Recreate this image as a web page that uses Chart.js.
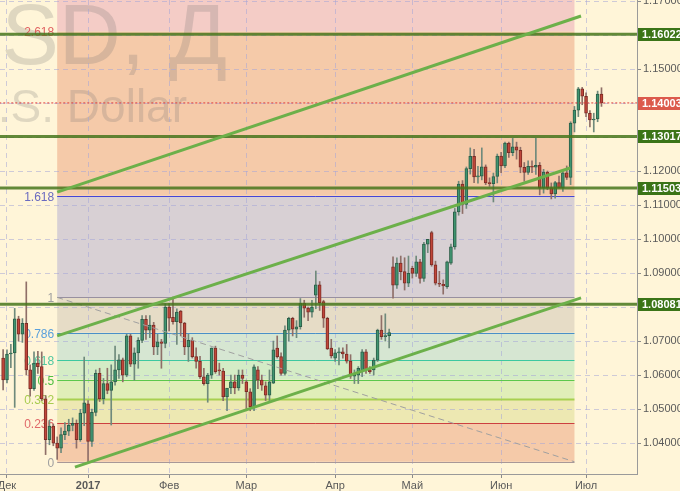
<!DOCTYPE html>
<html>
<head>
<meta charset="utf-8">
<script src="https://cdn.jsdelivr.net/npm/chart.js@4.4.0/dist/chart.umd.min.js"></script>
<style>
  html, body { margin: 0; padding: 0; background: #fff5d8; }
  #wrap { width: 680px; height: 491px; }
</style>
</head>
<body>
<div id="wrap"><canvas id="chart"></canvas></div>
<script>
// EURUSD daily, 30 Nov 2016 - 7 Jul 2017 (one entry per bar)
var opens = [1.0650,1.0586,1.0662,1.0665,1.0765,1.0720,1.0752,1.0615,1.0560,1.0635,
  1.0625,1.0530,1.0410,1.0450,1.0400,1.0385,1.0425,1.0435,1.0452,1.0458,
  1.0410,1.0488,1.0515,1.0405,1.0490,1.0605,1.0530,1.0575,1.0555,1.0580,
  1.0615,1.0645,1.0600,1.0715,1.0632,1.0665,1.0702,1.0764,1.0732,1.0747,
  1.0683,1.0698,1.0693,1.0800,1.0770,1.0757,1.0788,1.0753,1.0683,1.0702,
  1.0654,1.0640,1.0595,1.0575,1.0600,1.0679,1.0615,1.0612,1.0536,1.0562,
  1.0580,1.0562,1.0600,1.0580,1.0551,1.0507,1.0615,1.0585,1.0568,1.0541,
  1.0576,1.0679,1.0654,1.0605,1.0732,1.0767,1.0735,1.0742,1.0811,1.0797,
  1.0785,1.0835,1.0865,1.0816,1.0767,1.0679,1.0650,1.0665,1.0668,1.0662,
  1.0641,1.0597,1.0600,1.0610,1.0668,1.0615,1.0615,1.0644,1.0732,1.0713,
  1.0716,1.0918,1.0864,1.0929,1.0904,1.0870,1.0914,1.0899,1.0933,1.0884,
  1.0985,1.1019,1.0924,1.0870,1.0867,1.0860,1.0929,1.0977,1.1080,1.1162,
  1.1102,1.1207,1.1243,1.1183,1.1185,1.1212,1.1165,1.1163,1.1184,1.1244,
  1.1215,1.1282,1.1254,1.1271,1.1261,1.1211,1.1196,1.1214,1.1211,1.1217,
  1.1150,1.1197,1.1151,1.1133,1.1166,1.1150,1.1195,1.1181,1.1341,1.1379,
  1.1442,1.1420,1.1370,1.1350,1.1353,1.1426];
var highs = [1.0675,1.0674,1.0690,1.0796,1.0773,1.0766,1.0874,1.0630,1.0668,1.0670,
  1.0668,1.0540,1.0467,1.0456,1.0418,1.0445,1.0460,1.0470,1.0474,1.0468,
  1.0499,1.0653,1.0525,1.0500,1.0615,1.0620,1.0590,1.0620,1.0630,1.0685,
  1.0660,1.0650,1.0720,1.0720,1.0680,1.0710,1.0775,1.0775,1.0775,1.0755,
  1.0720,1.0705,1.0810,1.0810,1.0829,1.0795,1.0790,1.0755,1.0720,1.0710,
  1.0680,1.0655,1.0620,1.0605,1.0680,1.0685,1.0635,1.0620,1.0560,1.0600,
  1.0600,1.0615,1.0615,1.0585,1.0560,1.0630,1.0625,1.0600,1.0580,1.0615,
  1.0700,1.0715,1.0665,1.0745,1.0770,1.0770,1.0760,1.0825,1.0820,1.0800,
  1.0820,1.0906,1.0875,1.0820,1.0770,1.0705,1.0675,1.0680,1.0680,1.0690,
  1.0660,1.0615,1.0625,1.0675,1.0675,1.0625,1.0650,1.0735,1.0775,1.0780,
  1.0735,1.0948,1.0945,1.0950,1.0945,1.0950,1.0920,1.0950,1.0940,1.0990,
  1.0999,1.1023,1.0935,1.0905,1.0880,1.0935,1.0985,1.1090,1.1170,1.1172,
  1.1212,1.1268,1.1264,1.1214,1.1268,1.1218,1.1180,1.1194,1.1250,1.1255,
  1.1285,1.1285,1.1296,1.1285,1.1270,1.1225,1.1230,1.1230,1.1296,1.1225,
  1.1205,1.1200,1.1165,1.1170,1.1185,1.1205,1.1215,1.1345,1.1390,1.1446,
  1.1446,1.1430,1.1378,1.1370,1.1435,1.1445];
var lows = [1.0556,1.0577,1.0622,1.0505,1.0700,1.0696,1.0600,1.0538,1.0555,1.0605,
  1.0525,1.0366,1.0395,1.0392,1.0352,1.0372,1.0410,1.0422,1.0436,1.0385,
  1.0405,1.0451,1.0340,1.0390,1.0480,1.0522,1.0515,1.0545,1.0453,1.0570,
  1.0590,1.0580,1.0595,1.0625,1.0585,1.0620,1.0695,1.0705,1.0710,1.0660,
  1.0660,1.0620,1.0680,1.0730,1.0750,1.0690,1.0715,1.0660,1.0640,1.0650,
  1.0620,1.0590,1.0570,1.0520,1.0590,1.0605,1.0600,1.0525,1.0495,1.0545,
  1.0545,1.0555,1.0575,1.0495,1.0495,1.0495,1.0560,1.0555,1.0525,1.0525,
  1.0575,1.0650,1.0600,1.0600,1.0700,1.0715,1.0710,1.0735,1.0770,1.0760,
  1.0770,1.0795,1.0790,1.0740,1.0675,1.0650,1.0640,1.0630,1.0650,1.0635,
  1.0590,1.0575,1.0575,1.0595,1.0605,1.0605,1.0600,1.0640,1.0705,1.0700,
  1.0680,1.0826,1.0855,1.0880,1.0850,1.0860,1.0885,1.0890,1.0870,1.0875,
  1.0960,1.0920,1.0865,1.0860,1.0838,1.0855,1.0925,1.0970,1.1070,1.1075,
  1.1090,1.1191,1.1166,1.1164,1.1174,1.1160,1.1155,1.1109,1.1165,1.1195,
  1.1210,1.1240,1.1245,1.1235,1.1195,1.1170,1.1190,1.1195,1.1190,1.1130,
  1.1135,1.1145,1.1118,1.1120,1.1150,1.1140,1.1175,1.1160,1.1315,1.1360,
  1.1395,1.1360,1.1330,1.1315,1.1345,1.1390];
var closes = [1.0586,1.0662,1.0664,1.0765,1.0720,1.0752,1.0615,1.0560,1.0635,1.0625,
  1.0530,1.0410,1.0450,1.0400,1.0385,1.0425,1.0435,1.0452,1.0458,1.0410,
  1.0488,1.0518,1.0405,1.0490,1.0605,1.0530,1.0575,1.0555,1.0580,1.0615,
  1.0645,1.0600,1.0715,1.0632,1.0665,1.0702,1.0764,1.0732,1.0747,1.0683,
  1.0698,1.0693,1.0800,1.0767,1.0757,1.0785,1.0753,1.0683,1.0702,1.0654,
  1.0640,1.0595,1.0575,1.0600,1.0679,1.0610,1.0612,1.0536,1.0562,1.0580,
  1.0562,1.0600,1.0590,1.0551,1.0507,1.0624,1.0585,1.0570,1.0541,1.0580,
  1.0674,1.0654,1.0605,1.0732,1.0767,1.0735,1.0742,1.0811,1.0797,1.0785,
  1.0800,1.0865,1.0813,1.0767,1.0677,1.0656,1.0665,1.0668,1.0662,1.0641,
  1.0597,1.0603,1.0620,1.0668,1.0615,1.0610,1.0644,1.0732,1.0713,1.0716,
  1.0725,1.0864,1.0929,1.0904,1.0870,1.0899,1.0899,1.0933,1.0884,1.0985,
  1.0999,1.0924,1.0870,1.0867,1.0862,1.0933,1.0977,1.1080,1.1162,1.1102,
  1.1207,1.1243,1.1183,1.1185,1.1212,1.1165,1.1163,1.1184,1.1244,1.1215,
  1.1282,1.1254,1.1271,1.1261,1.1211,1.1196,1.1214,1.1211,1.1217,1.1150,
  1.1197,1.1151,1.1133,1.1166,1.1150,1.1195,1.1181,1.1341,1.1379,1.1442,
  1.1420,1.1370,1.1350,1.1353,1.1426,1.1400];

// axis ticks: bar index of the first bar of each month
var tickBars = [1, 22, 43, 63, 86, 106, 129, 151];
var tickLabels = ['Дек', '2017', 'Фев', 'Мар', 'Апр', 'Май', 'Июн', 'Июл'];
var priceTicks = [1.04, 1.05, 1.06, 1.07, 1.08, 1.09, 1.10, 1.11, 1.12, 1.13, 1.14, 1.15, 1.16, 1.17];

// horizontal levels and last price
var levelPrices = [1.16022, 1.13017, 1.11503, 1.08081];
var lastPrice = 1.14003;

// fibonacci grid
var fibRatios = [0, 0.236, 0.382, 0.5, 0.618, 0.786, 1, 1.618, 2.618, 4.236];
var fibLow = 1.0345, fibHigh = 1.08285;
var fibFromBar = 14, fibToBar = 148;

// channel lines, [bar, price] anchors
var channelUpper = [[14, 1.1138], [149.7, 1.1656]];
var channelMiddle = [[14, 1.0715], [146.9, 1.1209]];
var channelLower = [[18.6, 1.0329], [149.7, 1.0827]];

var bg = '#fff5d8';
var fibFills = ['#f5caa9', '#ede8b2', '#e0eeb8', '#d4ecc6', '#d6e6d2', '#e6dcc6', '#d8d0d4', '#f5caa9', '#f4ccc6'];
var fibLineColors = ['#a89898', '#cc4040', '#a8d050', '#5cc84c', '#3cc8a0', '#4a90c8', '#9890a0', '#4646d6', 'rgba(0,0,0,0)', 'rgba(0,0,0,0)'];
var fibTextColors = ['#a0a0a0', '#e06a6a', '#a8cc50', '#50c040', '#50c8a0', '#5aa0dc', '#a0a0a0', '#6a6ac0', '#e06060', '#e06060'];
var FONT = '"Liberation Sans", Arial, sans-serif';

function fibPrice(r) { return fibLow + r * (fibHigh - fibLow); }
function isBull(i) { return closes[i] >= opens[i]; }

var wicks = opens.map(function (o, i) { return { x: i, y: [lows[i], highs[i]] }; });
var bodies = opens.map(function (o, i) { return { x: i, y: [o, closes[i]] }; });
function seg(pts) { return pts.map(function (p) { return { x: p[0], y: p[1] }; }); }
function flat(v) { return [{ x: -1, y: v }, { x: 170, y: v }]; }

var drawings = {
  id: 'drawings',
  beforeDraw: function (chart) {
    var ctx = chart.ctx, a = chart.chartArea, x = chart.scales.x, y = chart.scales.y;
    ctx.save();
    ctx.fillStyle = bg;
    ctx.fillRect(0, 0, chart.width, chart.height);
    ctx.beginPath();
    ctx.rect(a.left, a.top, a.right - a.left, a.bottom - a.top);
    ctx.clip();
    var x1 = x.getPixelForValue(fibFromBar), x2 = x.getPixelForValue(fibToBar);
    for (var k = 0; k < fibRatios.length - 1; k++) {
      var yA = y.getPixelForValue(fibPrice(fibRatios[k]));
      var yB = y.getPixelForValue(fibPrice(fibRatios[k + 1]));
      ctx.fillStyle = fibFills[k];
      ctx.fillRect(x1, yB, x2 - x1, yA - yB);
    }
    // symbol watermark
    ctx.fillStyle = 'rgba(110,110,110,0.22)';
    ctx.textAlign = 'right';
    ctx.textBaseline = 'alphabetic';
    ctx.font = '86px ' + FONT;
    ctx.fillText('EURUSD, Д', 227, 64);
    ctx.font = '46px ' + FONT;
    ctx.fillText('Euro vs U.S. Dollar', 187, 122);
    ctx.restore();
  },
  beforeDatasetsDraw: function (chart) {
    var ctx = chart.ctx, a = chart.chartArea, x = chart.scales.x, y = chart.scales.y;
    var x1 = x.getPixelForValue(fibFromBar), x2 = x.getPixelForValue(fibToBar);
    ctx.save();
    ctx.beginPath();
    ctx.rect(a.left, a.top, a.right - a.left, a.bottom - a.top);
    ctx.clip();
    ctx.font = '12px ' + FONT;
    ctx.textAlign = 'right';
    ctx.textBaseline = 'middle';
    fibRatios.forEach(function (r, k) {
      var py = Math.round(y.getPixelForValue(fibPrice(r))) + 0.5;
      ctx.strokeStyle = fibLineColors[k];
      ctx.lineWidth = r === 0.382 ? 2 : 1;
      ctx.beginPath();
      ctx.moveTo(x1, py);
      ctx.lineTo(x2, py);
      ctx.stroke();
      ctx.fillStyle = fibTextColors[k];
      ctx.fillText(String(r), x1 - 3, py + 1);
    });
    ctx.restore();
  },
  afterDraw: function (chart) {
    var ctx = chart.ctx, a = chart.chartArea, y = chart.scales.y;
    ctx.save();
    ctx.font = 'bold 11px ' + FONT;
    ctx.textAlign = 'left';
    ctx.textBaseline = 'middle';
    function box(v, color) {
      var py = Math.round(y.getPixelForValue(v));
      ctx.fillStyle = color;
      ctx.fillRect(a.right + 1, py - 6, chart.width - a.right, 13);
      ctx.fillStyle = '#ffffff';
      ctx.fillText(v.toFixed(5), a.right + 5, py + 0.5);
    }
    levelPrices.forEach(function (v) { box(v, '#3b7417'); });
    box(lastPrice, '#dc5a4c');
    ctx.restore();
  }
};

var datasets = [
  { type: 'bar', data: wicks, grouped: false, barThickness: 1, order: 4,
    backgroundColor: opens.map(function (o, i) { return isBull(i) ? '#6f8a7c' : '#8f6f68'; }) },
  { type: 'bar', data: bodies, grouped: false, barThickness: 3, order: 3, minBarLength: 1,
    borderWidth: 1, borderSkipped: false,
    backgroundColor: opens.map(function (o, i) { return isBull(i) ? '#3f9470' : '#c0463a'; }),
    borderColor: opens.map(function (o, i) { return isBull(i) ? '#2c5e48' : '#7c2c25'; }) },
  { type: 'line', data: seg([[fibFromBar, fibPrice(1)], [fibToBar, fibPrice(0)]]), order: 2,
    borderColor: '#a0a0a0', borderWidth: 1, borderDash: [6, 4] },
  { type: 'line', data: flat(lastPrice), order: 2, borderColor: '#e03a3a', borderWidth: 1, borderDash: [2, 2] }
];
levelPrices.forEach(function (v) {
  datasets.push({ type: 'line', data: flat(v), order: 1, borderColor: 'rgba(70,118,28,0.85)', borderWidth: 3 });
});
[channelUpper, channelMiddle, channelLower].forEach(function (c) {
  datasets.push({ type: 'line', data: seg(c), order: 0, borderColor: '#6cb04a', borderWidth: 3 });
});
datasets.forEach(function (d) {
  if (d.type === 'line') { d.pointRadius = 0; d.fill = false; d.tension = 0; }
});

new Chart(document.getElementById('chart'), {
  data: { datasets: datasets },
  options: {
    responsive: true,
    maintainAspectRatio: false,
    animation: false,
    devicePixelRatio: 1,
    layout: { padding: 0, autoPadding: false },
    plugins: { legend: { display: false }, tooltip: { enabled: false } },
    scales: {
      x: {
        type: 'linear', min: -0.81, max: 164.2, offset: false,
        afterBuildTicks: function (s) { s.ticks = tickBars.map(function (v) { return { value: v }; }); },
        afterFit: function (s) { s.height = 17; s.paddingLeft = 0; s.paddingRight = 0; },
        ticks: {
          autoSkip: false, maxRotation: 0, padding: 1, color: '#5a5a5a',
          callback: function (v, i) { return tickLabels[i]; },
          font: function (c) { return { family: FONT, size: 11, weight: tickLabels[c.index] === '2017' ? 'bold' : 'normal' }; }
        },
        grid: { offset: false, color: 'rgba(165,165,215,0.55)', tickColor: '#8a8a8a', tickLength: 4, tickBorderDash: [] },
        border: { display: true, color: '#9a9a9a', width: 1, dash: [5, 4] }
      },
      y: {
        type: 'linear', position: 'right', min: 1.0309, max: 1.1703,
        afterBuildTicks: function (s) { s.ticks = priceTicks.map(function (v) { return { value: v }; }); },
        afterFit: function (s) { s.width = 43; s.paddingTop = 0; s.paddingBottom = 0; },
        ticks: {
          padding: 2, color: '#5a5a5a', font: { family: FONT, size: 11 },
          callback: function (v) { return Number(v).toFixed(5); }
        },
        grid: { color: 'rgba(165,165,215,0.55)', tickColor: '#8a8a8a', tickLength: 4, tickBorderDash: [] },
        border: { display: true, color: '#9a9a9a', width: 1, dash: [5, 4] }
      }
    }
  },
  plugins: [drawings]
});
</script>
</body>
</html>
